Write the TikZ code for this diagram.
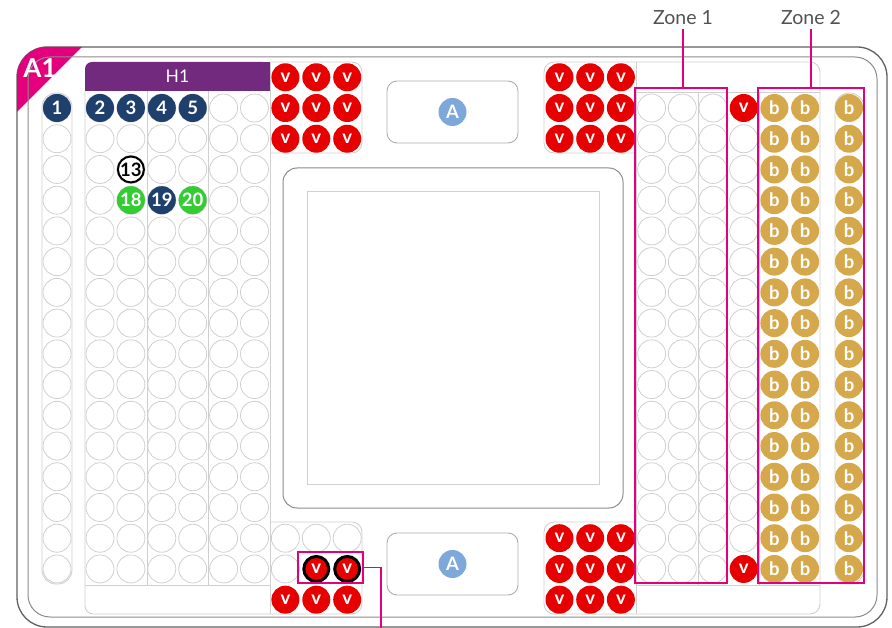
\documentclass[tikz,border=0pt]{standalone}
\usepackage{fontspec}
\setmainfont{Lato}
\usetikzlibrary{positioning,calc}
\definecolor{navywell}{HTML}{1F3F6C}
\definecolor{greenwell}{HTML}{33CC33}
\definecolor{redwell}{HTML}{E60000}
\definecolor{goldwell}{HTML}{D6A84C}
\definecolor{abluecirc}{HTML}{7FA8DA}
\definecolor{hpurple}{HTML}{722A7E}
\definecolor{zonemag}{HTML}{E4007C}
\definecolor{rimgray}{HTML}{CFCFCF}

\begin{document}
\begin{tikzpicture}[x=1pt,y=-1pt,
  well/.style={circle,draw=rimgray,line width=0.8pt,minimum size=28pt,inner sep=0pt},
  filledwell/.style={circle,fill=#1,minimum size=28pt,inner sep=0pt,text=white,
    font=\fontsize{18.5}{18}\selectfont\bfseries},
  vwell/.style={filledwell=redwell},
  bwell/.style={filledwell=goldwell},
  picked/.style={vwell,draw=black,line width=3pt,minimum size=25pt},
  panel/.style={draw=rimgray,line width=0.9pt},
  zone/.style={draw=zonemag,line width=2.8pt,inner sep=0pt},
  leader/.style={draw=zonemag,line width=1.3pt},
  abox/.style={draw=black!32,line width=0.9pt,rounded corners=10pt,
    minimum width=131pt,minimum height=62pt},
  zonelab/.style={text=black!68,font=\fontsize{19.5}{19}\selectfont}]
  \useasboundingbox (0,0) rectangle (892,628);

  \draw[black!62,line width=1.3pt,rounded corners=30pt] (17,47) rectangle (887,627);
  \begin{scope}
    \clip[rounded corners=30pt] (17,47) rectangle (887,627);
    \fill[zonemag] (17,47) -- (82,47) -- (17,112) -- cycle;
  \end{scope}
  \draw[black!45,line width=1pt,rounded corners=22pt] (28,57) rectangle (877,617);
  \node[text=white,font=\fontsize{26}{26}\selectfont\bfseries] (a1) at (40,68) {A1};

  \draw[panel,rounded corners=14pt] (42,93) rectangle (72,584);

  \fill[hpurple,rounded corners=7pt] (85,62) rectangle (270,91);
  \fill[hpurple] (100,62) rectangle (270,91);
  \fill[hpurple] (85,78) rectangle (270,91);
  \node[text=white,font=\fontsize{17.5}{17}\selectfont] (h1) at (177.5,76.5) {H1};
  \draw[panel,rounded corners=8pt] (85,91) -- (85,614) -- (270,614);
  \draw[panel] (270,62) -- (270,614);
  \draw[panel] (85,585) -- (270,585);
  \foreach \x in {147,208}
    \draw[panel] (\x,91) -- (\x,585);

  \draw[panel,rounded corners=10pt] (270,62) -- (362,62) -- (362,153) -- (270,153);
  \draw[panel,rounded corners=10pt] (270,522) -- (362,522) -- (362,614) -- (270,614);
  \draw[panel,rounded corners=10pt] (636,62) -- (544,62) -- (544,153) -- (636,153);
  \draw[panel,rounded corners=10pt] (636,522) -- (544,522) -- (544,614) -- (636,614);

  \draw[panel,rounded corners=10pt] (636,62) -- (820,62) -- (820,614) -- (636,614);
  \draw[panel] (636,62) -- (636,614);
  \draw[panel] (636,92) -- (820,92);
  \draw[panel] (636,585) -- (820,585);
  \foreach \x in {698,759}
    \draw[panel] (\x,92) -- (\x,585);
  \draw[panel,rounded corners=14pt] (835,93) rectangle (864,584);

  \draw[black!45,line width=1pt,rounded corners=14pt] (283,168) rectangle (623,508);
  \draw[black!18,line width=1pt] (307,192) rectangle (599,484);

  \node[abox] (boxtop) at (452.5,112) {};
  \node[filledwell=abluecirc] (atop) at (boxtop) {A};
  \node[abox] (boxbot) at (452.5,564) {};
  \node[filledwell=abluecirc] (abot) at (boxbot) {A};

  \foreach \r in {1,...,16}
    \node[well] (c0-\r) at (57,{108+30.73*(\r-1)}) {};
  \node[filledwell=navywell] (n1) at (c0-1) {1};

  \foreach \c [count=\i] in {100,130.9,161.8,192.7,223.6,254.5}
    \foreach \r in {1,...,16}
      \node[well] (h\i-\r) at (\c,{108+30.73*(\r-1)}) {};
  \node[filledwell=navywell] (n2) at (h1-1) {2};
  \node[filledwell=navywell] (n3) at (h2-1) {3};
  \node[filledwell=navywell] (n4) at (h3-1) {4};
  \node[filledwell=navywell] (n5) at (h4-1) {5};
  \node[filledwell=white,draw=black,line width=2pt,minimum size=26pt,text=black] (n13) at (h2-3) {13};
  \node[filledwell=greenwell] (n18) at (h2-4) {18};
  \node[filledwell=navywell] (n19) at (h3-4) {19};
  \node[filledwell=greenwell] (n20) at (h4-4) {20};

  \foreach \c [count=\i] in {285.4,316.3,347.2}
    \foreach \r in {0,1,2}
      \node[vwell] (vtl\i-\r) at (\c,{108+30.73*(\r-1)}) {v};
  \foreach \c [count=\i] in {285.4,316.3,347.2} {
    \node[well] (bl\i-15) at (\c,{108+30.73*14}) {};
    \node[vwell] (bl\i-17) at (\c,{108+30.73*16}) {v};
  }
  \node[well] (bl1-16) at (285.4,{108+30.73*15}) {};
  \node[picked] (bl2-16) at (316.3,{108+30.73*15}) {v};
  \node[picked] (bl3-16) at (347.2,{108+30.73*15}) {v};

  \foreach \c [count=\i] in {559.5,590.2,620.9} {
    \foreach \r in {0,1,2}
      \node[vwell] (vtr\i-\r) at (\c,{108+30.73*(\r-1)}) {v};
    \foreach \r in {15,16,17}
      \node[vwell] (vbr\i-\r) at (\c,{108+30.73*(\r-1)}) {v};
  }

  \foreach \c [count=\i] in {651.6,682.3,713}
    \foreach \r in {1,...,16}
      \node[well] (z\i-\r) at (\c,{108+30.73*(\r-1)}) {};
  \foreach \r in {2,...,15}
    \node[well] (e-\r) at (743.7,{108+30.73*(\r-1)}) {};
  \node[vwell] (e-1) at (743.7,108) {v};
  \node[vwell] (e-16) at (743.7,{108+30.73*15}) {v};

  \foreach \c [count=\i] in {774.4,805.1,849}
    \foreach \r in {1,...,16}
      \node[bwell] (b\i-\r) at (\c,{108+30.73*(\r-1)}) {b};

  \node[zone,minimum width=92pt,minimum height=495pt] (zone1) at (681,335.5) {};
  \node[zone,minimum width=106pt,minimum height=495pt] (zone2) at (811,335.5) {};
  \node[zonelab] (lab1) at (683,18) {Zone 1};
  \node[zonelab] (lab2) at (811,18) {Zone 2};
  \draw[leader] (lab1.south) -- (lab1.south |- zone1.north);
  \draw[leader] (lab2.south) -- (lab2.south |- zone2.north);

  \node[zone,minimum width=65pt,minimum height=31pt] (hl) at (330.5,567.5) {};
  \coordinate (hlbend) at (381,567.5);
  \coordinate (hlend) at (381,629);
  \draw[leader] (hl.east) -- (hlbend) -- (hlend);
\end{tikzpicture}
\end{document}
